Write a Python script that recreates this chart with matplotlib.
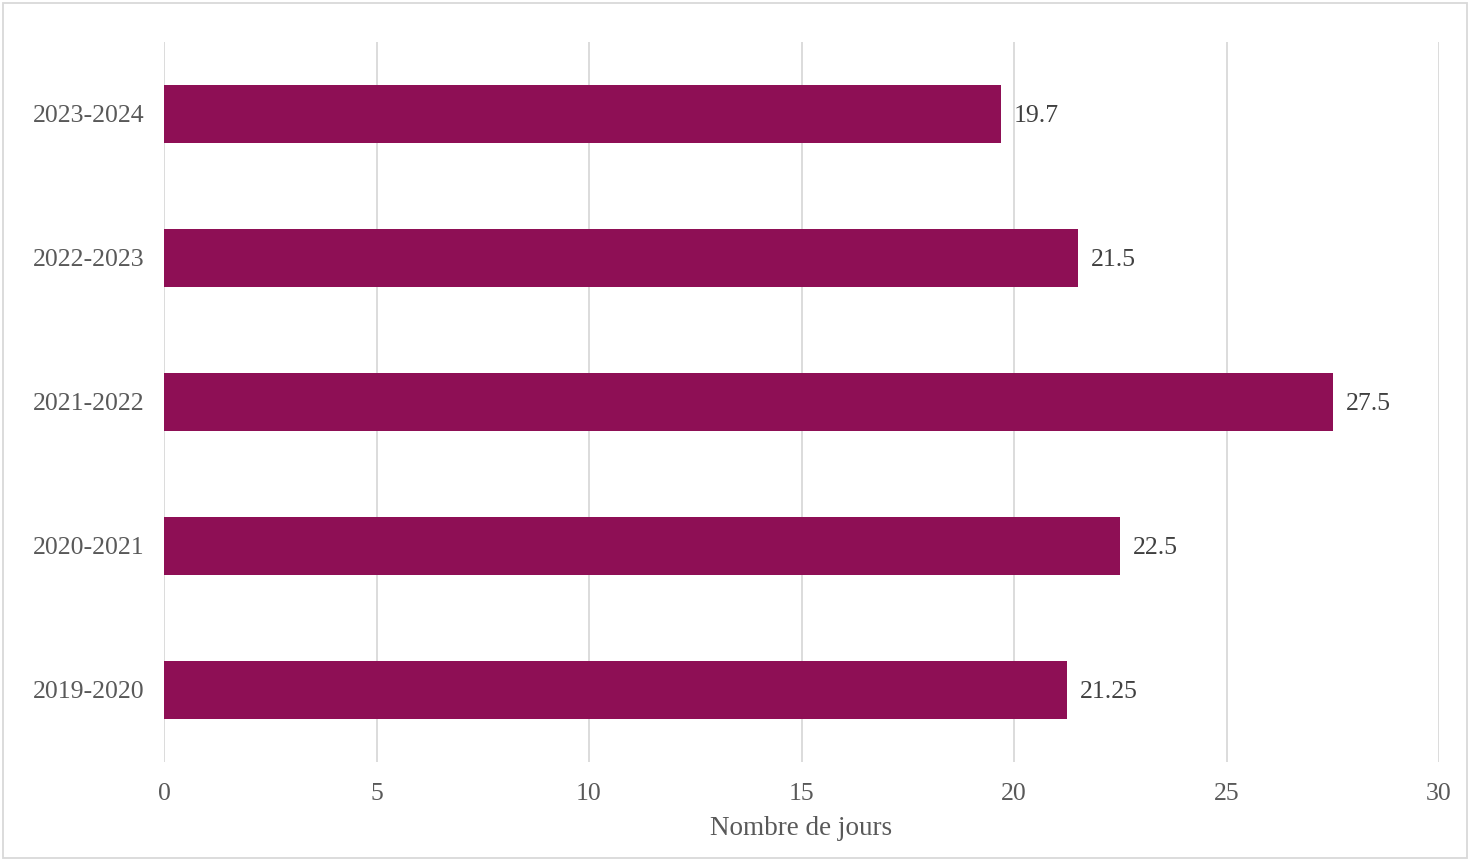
import matplotlib.pyplot as plt
from matplotlib.patches import Rectangle

plt.rcParams['font.family'] = ['Liberation Serif', 'DejaVu Serif']

years = ['2019-2020', '2020-2021', '2021-2022', '2022-2023', '2023-2024']
days = [21.25, 22.5, 27.5, 21.5, 19.7]
labels = ['21.25', '22.5', '27.5', '21.5', '19.7']

BAR_COLOR = '#8E0F55'
TEXT_COLOR = '#595959'
GRID_COLOR = '#D9D9D9'

fig = plt.figure(figsize=(14.71, 8.61), dpi=100)
ax = fig.add_axes([164 / 1471, 99 / 861, 1275 / 1471, 720 / 861])

ypos = range(len(years))
ax.barh(ypos, days, height=0.4, color=BAR_COLOR, zorder=3)
for y, v, lab in zip(ypos, days, labels):
    ax.text(v + 0.3, y - 0.015, lab, va='center', ha='left', fontsize=18.5, color='#404040')

ax.set_xlim(0, 30)
ax.set_ylim(-0.5, 4.5)
ax.set_xticks(range(0, 31, 5))
ax.set_yticks(list(ypos))
ax.set_yticklabels(years)
ax.tick_params(axis='both', length=0, labelsize=18.5, labelcolor=TEXT_COLOR)
ax.tick_params(axis='x', pad=15)
ax.tick_params(axis='y', pad=14)
ax.grid(axis='x', color=GRID_COLOR, linewidth=1.3, zorder=0)
for s in ax.spines.values():
    s.set_visible(False)

ax.set_xlabel('Nombre de jours', fontsize=19.5, color=TEXT_COLOR, labelpad=8)

fig.patches.append(Rectangle((3 / 1471, 3 / 861), 1464 / 1471, 855 / 861,
                             transform=fig.transFigure, fill=False,
                             edgecolor=GRID_COLOR, linewidth=1.3))

fig.savefig('out.png', dpi=100)
